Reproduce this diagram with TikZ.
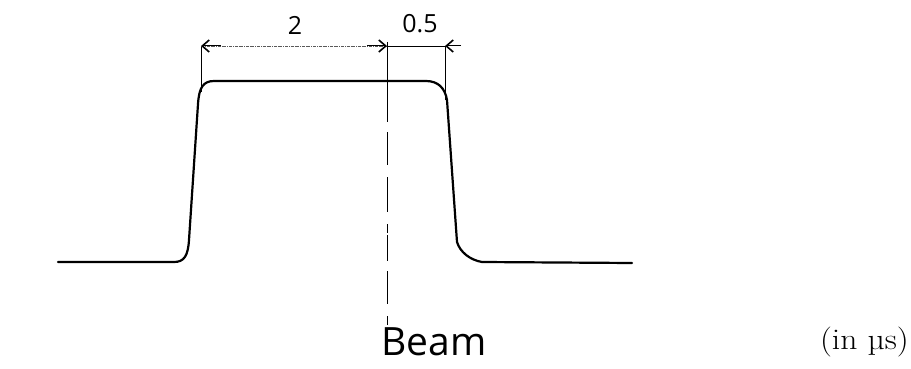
\documentclass[tikz,border=0pt]{standalone}
\usepackage{fontspec}
\newfontfamily\hand{Open Sans}
\usetikzlibrary{arrows.meta,calc}
\tikzset{
  pulse/.style={line width=2.2pt, line cap=round, line join=round},
  extline/.style={line width=0.9pt},
  dimarrow/.style={line width=0.6pt, densely dashdotted, gray!70!black},
  chev/.style={-{Straight Barb[length=7pt,width=12pt,line width=1.6pt]}},
  handlbl/.style={font=\hand\fontsize{25}{25}\selectfont, inner sep=0pt},
}
\begin{document}
\begin{tikzpicture}[x=1pt,y=-1pt]
\useasboundingbox (0,0) rectangle (911,369);
% pulse
\draw[pulse] (58,262) -- (174,262)
  .. controls (184,262) and (188,256) .. (189,240)
  -- (198,104)
  .. controls (199,88) and (203,81) .. (214,81)
  -- (426,81)
  .. controls (438,81) and (445,88) .. (447,100)
  -- (457,242)
  .. controls (460,252) and (470,260) .. (482,262)
  -- (632,263);
% extension lines
\coordinate (L1) at (201,46);
\coordinate (L2) at (201,92);
\coordinate (M1) at (387,42);
\coordinate (M2) at (387,96);
\coordinate (M3) at (387,325);
\coordinate (R1) at (445,46);
\coordinate (R2) at (445,100);
\coordinate (Rout) at (461,46);
\coordinate (MD) at (387,46);
\draw[extline] (L1) -- (L2);
\draw[extline] (M1) -- (M2);
\draw[extline, dash pattern=on 26pt off 10pt on 33pt off 12pt on 35pt off 12pt on 9pt off 2pt] (M2) -- (M3);
\draw[extline] (R1) -- (R2);
% dimension lines
\draw[dimarrow] (L1) -- (MD);
\draw[chev, line width=1pt] ($(L1)+(20,0)$) -- (L1);
\draw[chev, line width=1pt] ($(MD)+(-20,0)$) -- (MD);
\draw[extline] (MD) -- (R1);
\draw[chev, line width=1pt] (Rout) -- (R1);
% labels
\node[handlbl] (two) at (295,25) {2};
\node[handlbl] (half) at (420,24) {0.5};
\node[font=\hand\fontsize{39}{39}\selectfont, inner sep=0pt, anchor=base west] (beam) at (381,355) {Beam};
\node[inner sep=0pt, anchor=base east] (unit) at (909,349) {\fontsize{30}{32}\selectfont\scalebox{1.12}[1]{(in µs)}};
\end{tikzpicture}
\end{document}
